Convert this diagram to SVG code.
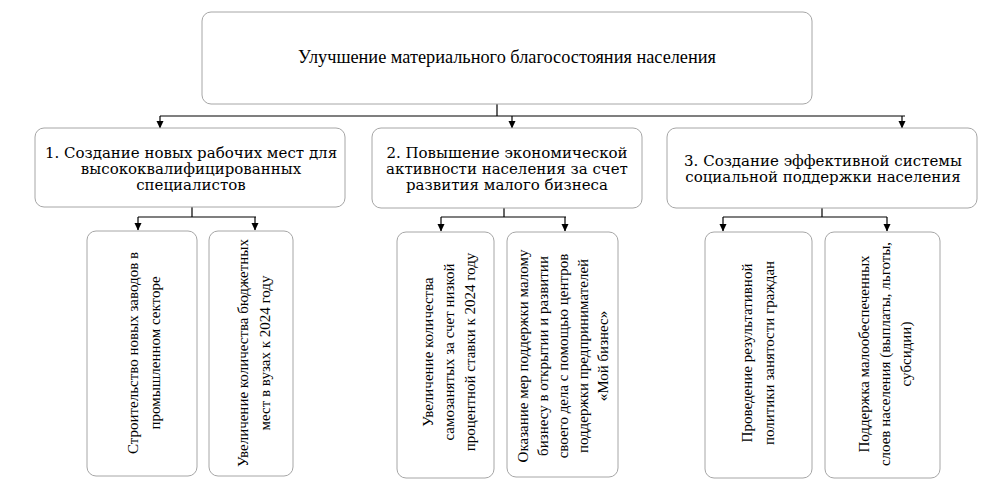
<svg xmlns="http://www.w3.org/2000/svg" width="991" height="487" viewBox="0 0 991 487">
<style>
.box{fill:#fff;stroke:#a6a6a6;stroke-width:1}
.t{fill:#000;text-anchor:middle;font-family:"Liberation Serif","Times New Roman",serif}
.top{font-size:18.3px}
.mid{font-size:15px;font-family:"DejaVu Serif","Liberation Serif",serif}
.bot{font-size:15px}
.c{fill:none;stroke:#000;stroke-width:1.2}
</style>
<defs>
<marker id="ah" markerWidth="8" markerHeight="8" refX="7" refY="4" orient="auto" markerUnits="userSpaceOnUse">
<path d="M0,0.5 L7.5,4 L0,7.5 z" fill="#000"/>
</marker>
</defs>
<rect width="991" height="487" fill="#fff"/>
<g id="connectors">
<path class="c" d="M497,103 V116 M160,116 H905"/>
<path class="c" d="M160,116 V128" marker-end="url(#ah)"/>
<path class="c" d="M512,116 V128" marker-end="url(#ah)"/>
<path class="c" d="M902,116 V128" marker-end="url(#ah)"/>
<path class="c" d="M192,207 V217 M138,217 H256"/>
<path class="c" d="M138,217 V230" marker-end="url(#ah)"/>
<path class="c" d="M255,217 V230" marker-end="url(#ah)"/>
<path class="c" d="M504,208 V217 M441,217 H566"/>
<path class="c" d="M441,217 V231" marker-end="url(#ah)"/>
<path class="c" d="M565,217 V231" marker-end="url(#ah)"/>
<path class="c" d="M822,208 V217 M723,217 H887"/>
<path class="c" d="M723,217 V231" marker-end="url(#ah)"/>
<path class="c" d="M887,217 V231" marker-end="url(#ah)"/>
</g>
<g id="root">
<rect class="box" x="202" y="12" width="610" height="92" rx="9"/>
<text class="t top" x="507" y="63">Улучшение материального благосостояния населения</text>
</g>
<g id="goal1">
<rect class="box" x="35" y="128" width="310" height="79" rx="9"/>
<text class="t mid" x="191" y="158">1. Создание новых рабочих мест для</text>
<text class="t mid" x="191" y="174">высококвалифицированных</text>
<text class="t mid" x="191" y="190">специалистов</text>
</g>
<g id="goal2">
<rect class="box" x="372" y="128" width="270" height="80" rx="9"/>
<text class="t mid" x="507" y="158">2. Повышение экономической</text>
<text class="t mid" x="507" y="174">активности населения за счет</text>
<text class="t mid" x="507" y="190">развития малого бизнеса</text>
</g>
<g id="goal3">
<rect class="box" x="667" y="128" width="310" height="80" rx="9"/>
<text class="t mid" x="823" y="166">3. Создание эффективной системы</text>
<text class="t mid" x="823" y="182">социальной поддержки населения</text>
</g>
<g id="task1">
<rect class="box" x="87" y="231" width="110" height="245" rx="9"/>
<g transform="translate(144,353) rotate(-90)">
<text class="t bot" x="0" y="-6">Строительство новых заводов в</text>
<text class="t bot" x="0" y="16">промышленном секторе</text>
</g>
</g>
<g id="task2">
<rect class="box" x="209" y="231" width="84" height="245" rx="9"/>
<g transform="translate(254,353) rotate(-90)">
<text class="t bot" x="0" y="-6">Увеличение количества бюджетных</text>
<text class="t bot" x="0" y="16">мест в вузах к 2024 году</text>
</g>
</g>
<g id="task3">
<rect class="box" x="397" y="232" width="97" height="246" rx="9"/>
<g transform="translate(449,352) rotate(-90)">
<text class="t bot" x="0" y="-16">Увеличение количества</text>
<text class="t bot" x="0" y="5">самозанятых за счет низкой</text>
<text class="t bot" x="0" y="26">процентной ставки к 2024 году</text>
</g>
</g>
<g id="task4">
<rect class="box" x="507" y="232" width="111" height="245" rx="9"/>
<g transform="translate(563,356) rotate(-90)">
<text class="t bot" x="0" y="-35">Оказание мер поддержки малому</text>
<text class="t bot" x="0" y="-15">бизнесу в открытии и развитии</text>
<text class="t bot" x="0" y="5">своего дела с помощью центров</text>
<text class="t bot" x="0" y="25">поддержки предпринимателей</text>
<text class="t bot" x="0" y="45">«Мой бизнес»</text>
</g>
</g>
<g id="task5">
<rect class="box" x="705" y="232" width="107" height="246" rx="9"/>
<g transform="translate(758,353) rotate(-90)">
<text class="t bot" x="0" y="-6">Проведение результативной</text>
<text class="t bot" x="0" y="16">политики занятости граждан</text>
</g>
</g>
<g id="task6">
<rect class="box" x="825" y="232" width="115" height="246" rx="9"/>
<g transform="translate(885,354) rotate(-90)">
<text class="t bot" x="0" y="-16">Поддержка малообеспеченных</text>
<text class="t bot" x="0" y="5">слоев населения (выплаты, льготы,</text>
<text class="t bot" x="0" y="26">субсидии)</text>
</g>
</g>
</svg>
